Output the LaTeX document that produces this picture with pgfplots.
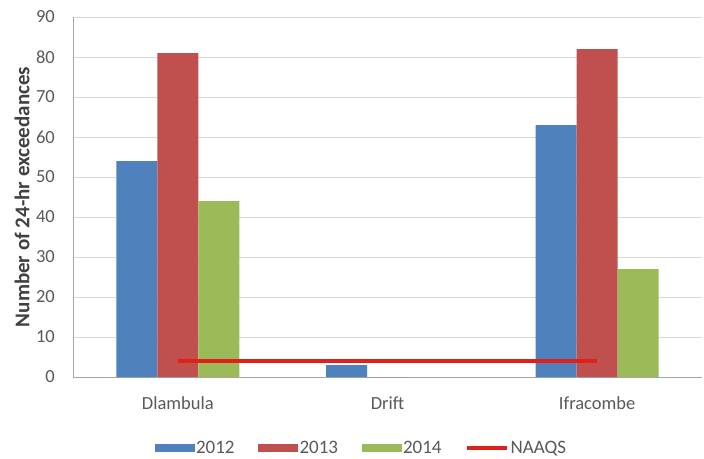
\documentclass[border=0pt]{standalone}
\usepackage{fontspec}
\setmainfont{Carlito}
\usepackage{pgfplots}
\pgfplotsset{compat=1.18}

\definecolor{s12}{HTML}{4F81BD}
\definecolor{s13}{HTML}{C0504D}
\definecolor{s14}{HTML}{9BBB59}
\definecolor{naaqs}{HTML}{E0201B}
\definecolor{txt}{HTML}{595959}
\definecolor{lbl}{HTML}{404040}
\definecolor{gridc}{HTML}{D9D9D9}
\definecolor{axc}{HTML}{A6A6A6}

\pgfplotsset{
  barlegend/.style={legend image code/.code={\fill[##1] (0pt,-4pt) rectangle (40pt,4pt);}},
  linelegend/.style={legend image code/.code={\draw[##1,line width=4pt] (0pt,0pt) -- (40pt,0pt);}},
}

\begin{document}
\begin{tikzpicture}
\begin{axis}[
  scale only axis,
  width=629pt, height=360pt,
  xmin=-0.5, xmax=2.5,
  ymin=0, ymax=90,
  ytick={0,10,...,90},
  xtick={0,1,2},
  xticklabels={Dlambula, Drift, Ifracombe},
  /pgf/number format/assume math mode=true,
  axis lines*=left,
  axis line style={axc, line width=0.8pt},
  major tick length=0pt,
  ymajorgrids,
  grid style={gridc, line width=0.8pt},
  tick label style={font=\fontsize{18.5}{21}\selectfont, text=txt},
  yticklabel style={inner sep=0pt, anchor=east, xshift=-18pt},
  xticklabel style={inner sep=0pt, anchor=center, yshift=-26pt},
  ylabel={Number of 24-hr exceedances},
  every axis y label/.style={at={(axis description cs:-0.081,0.5)}, rotate=90, anchor=center,
    font=\bfseries\fontsize{21}{24}\selectfont, text=lbl},
  legend style={at={(axis description cs:0.458,-0.197)}, anchor=center,
    legend columns=-1, draw=none, fill=none,
    font=\fontsize{19}{22}\selectfont, text=txt,
    nodes={inner sep=1.5pt},
    /tikz/every odd column/.append style={column sep=0pt},
    /tikz/every even column/.append style={column sep=22pt}},
]
\addplot[ybar, bar width=41pt, bar shift=-41pt, fill=s12, draw=none, barlegend]
  coordinates {(0,54) (1,3) (2,63)};
\addplot[ybar, bar width=41pt, bar shift=0pt, fill=s13, draw=none, barlegend]
  coordinates {(0,81) (1,0) (2,82)};
\addplot[ybar, bar width=41pt, bar shift=41pt, fill=s14, draw=none, barlegend]
  coordinates {(0,44) (1,0) (2,27)};
\addplot[naaqs, line width=4.5pt, linelegend]
  coordinates {(0,4) (2,4)};
\legend{2012, 2013, 2014, NAAQS}
\end{axis}
\pgfresetboundingbox
\path (current axis.south west) ++(-73pt,-81pt) rectangle ++(704pt,458pt);
\end{tikzpicture}
\end{document}
